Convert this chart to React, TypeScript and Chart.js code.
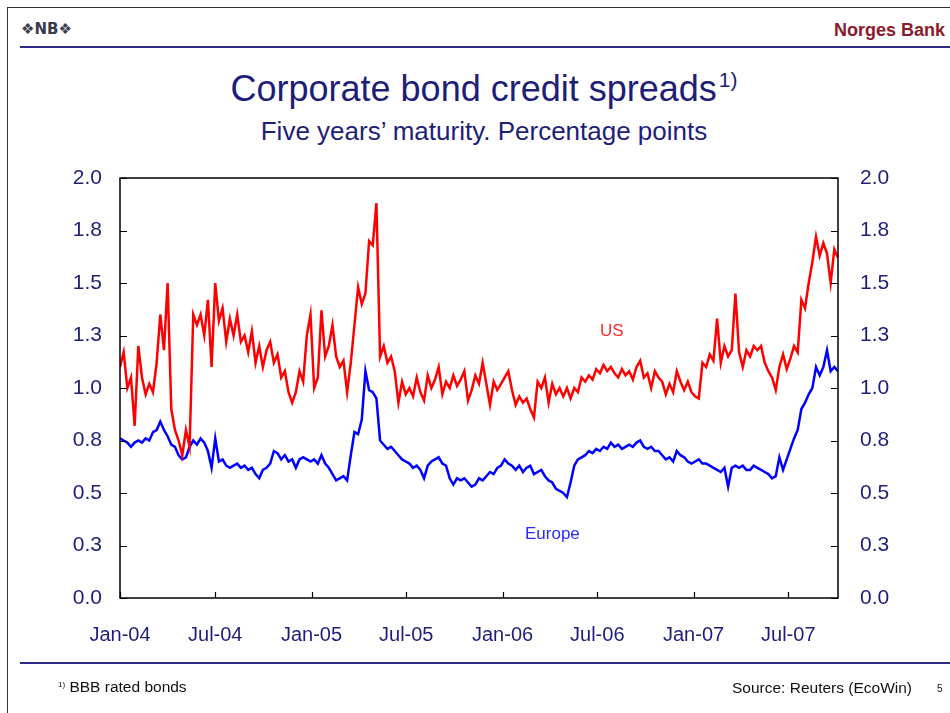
import React, { useEffect, useRef } from "react";
import { Chart, registerables } from "chart.js";

Chart.register(...registerables);

// Weekly samples starting first week of January 2004 (US and Europe, percentage points)
const sampleStepDays = 7;

const usSpread = [
  1.10, 1.17, 1.00, 1.05, 0.82, 1.20, 1.05, 0.97, 1.02, 0.98,
  1.12, 1.35, 1.18, 1.50, 0.90, 0.80, 0.75, 0.68, 0.80, 0.72,
  1.35, 1.30, 1.35, 1.25, 1.42, 1.10, 1.50, 1.32, 1.38, 1.22,
  1.33, 1.25, 1.35, 1.22, 1.25, 1.17, 1.27, 1.12, 1.20, 1.10,
  1.18, 1.22, 1.12, 1.16, 1.05, 1.08, 0.98, 0.93, 0.98, 1.08,
  1.03, 1.25, 1.35, 1.00, 1.05, 1.37, 1.15, 1.20, 1.30, 1.15,
  1.10, 1.13, 0.98, 1.12, 1.30, 1.48, 1.40, 1.45, 1.70, 1.68,
  1.88, 1.15, 1.20, 1.12, 1.15, 1.08, 0.93, 1.03, 0.97, 1.00,
  0.96, 1.05, 0.98, 0.94, 1.06, 1.00, 1.04, 1.10, 0.97, 1.03,
  1.00, 1.06, 1.01, 1.04, 1.08, 0.94, 0.99, 1.06, 1.02, 1.12,
  1.02, 0.92, 1.03, 0.99, 1.02, 1.05, 1.08, 0.99, 0.92, 0.96,
  0.93, 0.95, 0.90, 0.86, 1.03, 1.00, 1.05, 0.93, 1.02, 0.97,
  1.00, 0.96, 1.00, 0.95, 1.00, 0.98, 1.05, 1.03, 1.06, 1.04,
  1.09, 1.07, 1.11, 1.08, 1.10, 1.07, 1.05, 1.09, 1.06, 1.08,
  1.04, 1.10, 1.13, 1.05, 1.07, 1.00, 1.08, 1.05, 1.03, 0.97,
  1.02, 0.98, 1.08, 1.03, 0.99, 1.03, 0.98, 0.96, 0.95, 1.12,
  1.10, 1.16, 1.13, 1.33, 1.12, 1.20, 1.15, 1.18, 1.45, 1.17,
  1.10, 1.18, 1.15, 1.20, 1.18, 1.20, 1.12, 1.08, 1.05, 0.99,
  1.10, 1.16, 1.09, 1.14, 1.20, 1.17, 1.42, 1.38, 1.50, 1.60,
  1.72, 1.63, 1.69, 1.64, 1.50, 1.66, 1.62,
];

const europeSpread = [
  0.76, 0.75, 0.74, 0.72, 0.74, 0.75, 0.74, 0.76, 0.75, 0.79,
  0.80, 0.84, 0.80, 0.77, 0.73, 0.72, 0.68, 0.66, 0.67, 0.72,
  0.75, 0.73, 0.76, 0.74, 0.70, 0.62, 0.76, 0.65, 0.66, 0.63,
  0.62, 0.63, 0.64, 0.62, 0.63, 0.61, 0.62, 0.59, 0.57, 0.61,
  0.62, 0.64, 0.70, 0.69, 0.66, 0.68, 0.65, 0.66, 0.62, 0.66,
  0.67, 0.66, 0.65, 0.66, 0.64, 0.68, 0.64, 0.62, 0.59, 0.56,
  0.57, 0.58, 0.56, 0.68, 0.79, 0.78, 0.85, 1.08, 0.99, 0.98,
  0.95, 0.75, 0.73, 0.71, 0.72, 0.70, 0.68, 0.66, 0.65, 0.64,
  0.62, 0.63, 0.61, 0.57, 0.63, 0.65, 0.66, 0.67, 0.64, 0.63,
  0.57, 0.54, 0.57, 0.56, 0.57, 0.55, 0.53, 0.54, 0.57, 0.56,
  0.58, 0.60, 0.59, 0.62, 0.63, 0.66, 0.64, 0.63, 0.61, 0.63,
  0.60, 0.62, 0.63, 0.59, 0.60, 0.61, 0.58, 0.56, 0.55, 0.52,
  0.51, 0.50, 0.48, 0.55, 0.63, 0.66, 0.67, 0.68, 0.70, 0.69,
  0.71, 0.70, 0.72, 0.71, 0.74, 0.72, 0.73, 0.71, 0.72, 0.73,
  0.72, 0.74, 0.75, 0.72, 0.71, 0.72, 0.70, 0.70, 0.68, 0.66,
  0.67, 0.65, 0.70, 0.68, 0.67, 0.65, 0.64, 0.65, 0.66, 0.64,
  0.64, 0.63, 0.62, 0.61, 0.60, 0.62, 0.53, 0.62, 0.63, 0.62,
  0.63, 0.61, 0.61, 0.63, 0.62, 0.61, 0.60, 0.59, 0.57, 0.58,
  0.67, 0.61, 0.66, 0.71, 0.76, 0.80, 0.90, 0.93, 0.97, 1.00,
  1.10, 1.06, 1.10, 1.18, 1.08, 1.10, 1.08,
];

// Days since 1 Jan 2004 for each x-axis label
const xTickDays = [0, 182, 366, 547, 731, 912, 1096, 1277];
const xTickLabels = ["Jan-04", "Jul-04", "Jan-05", "Jul-05", "Jan-06", "Jul-06", "Jan-07", "Jul-07"];
const xMaxDays = 1372;

const yMin = 0;
const yMax = 2;
const yStep = 0.25;

const FONT = "'Liberation Sans', Arial, Helvetica, sans-serif";
const NAVY = "#1e1e78";

const frameTicksPlugin = {
  id: "frameTicks",
  afterDraw(chart: any) {
    const { ctx, chartArea } = chart;
    const { left, right, top, bottom } = chartArea;
    const yScale = chart.scales.y;
    const xScale = chart.scales.x;
    ctx.save();
    ctx.strokeStyle = "#000";
    ctx.lineWidth = 1.5;
    ctx.strokeRect(left, top, right - left, bottom - top);
    ctx.lineWidth = 1.2;
    ctx.beginPath();
    yScale.ticks.forEach((t: any) => {
      const py = Math.round(yScale.getPixelForValue(t.value)) + 0.5;
      ctx.moveTo(left, py);
      ctx.lineTo(left + 7, py);
      ctx.moveTo(right, py);
      ctx.lineTo(right - 7, py);
    });
    xScale.ticks.forEach((t: any) => {
      const px = Math.round(xScale.getPixelForValue(t.value)) + 0.5;
      ctx.moveTo(px, bottom);
      ctx.lineTo(px, bottom - 6);
    });
    ctx.stroke();
    ctx.restore();
  },
};

function SpreadChart() {
  const ref = useRef<HTMLCanvasElement | null>(null);
  useEffect(() => {
    if (!ref.current) return;
    const usPoints = usSpread.map((v, i) => ({ x: i * sampleStepDays, y: v }));
    const euPoints = europeSpread.map((v, i) => ({ x: i * sampleStepDays, y: v }));
    const yTickCb = (v: any) => Number(v).toFixed(1);
    const chart = new Chart(ref.current, {
      type: "line",
      data: {
        datasets: [
          {
            label: "US",
            data: usPoints,
            borderColor: "#ff0000",
            borderWidth: 2.5,
            pointRadius: 0,
            tension: 0,
            yAxisID: "y",
          },
          {
            label: "Europe",
            data: euPoints,
            borderColor: "#0000ff",
            borderWidth: 2.5,
            pointRadius: 0,
            tension: 0,
            yAxisID: "y",
          },
        ],
      },
      options: {
        responsive: false,
        animation: false,
        devicePixelRatio: 1,
        layout: { padding: { top: 178, left: 0, right: 0, bottom: 0 } },
        plugins: {
          legend: { display: false },
          tooltip: { enabled: false },
          title: { display: false },
        },
        scales: {
          x: {
            type: "linear",
            min: 0,
            max: xMaxDays,
            grid: { display: false, drawTicks: false },
            border: { display: false },
            afterBuildTicks: (scale: any) => {
              scale.ticks = xTickDays.map((d) => ({ value: d }));
            },
            afterFit: (scale: any) => {
              scale.height = 115;
            },
            ticks: {
              autoSkip: false,
              maxRotation: 0,
              padding: 25,
              color: NAVY,
              font: { family: FONT, size: 20 },
              callback: (_v: any, i: number) => xTickLabels[i],
            },
          },
          y: {
            position: "left",
            min: yMin,
            max: yMax,
            grid: { display: false, drawTicks: false },
            border: { display: false },
            afterFit: (scale: any) => {
              scale.width = 120;
            },
            ticks: {
              stepSize: yStep,
              padding: 18,
              color: NAVY,
              font: { family: FONT, size: 21 },
              callback: yTickCb,
            },
          },
          y2: {
            position: "right",
            min: yMin,
            max: yMax,
            grid: { display: false, drawTicks: false },
            border: { display: false },
            afterFit: (scale: any) => {
              scale.width = 112;
            },
            ticks: {
              stepSize: yStep,
              padding: 22,
              color: NAVY,
              font: { family: FONT, size: 21 },
              callback: yTickCb,
            },
          },
        },
      },
      plugins: [frameTicksPlugin],
    } as any);
    return () => chart.destroy();
  }, []);
  return (
    <canvas
      ref={ref}
      width={950}
      height={713}
      style={{ position: "absolute", left: 0, top: 0, width: 950, height: 713 }}
    />
  );
}

const txt = (extra: React.CSSProperties): React.CSSProperties => ({
  position: "absolute",
  fontFamily: FONT,
  lineHeight: 1,
  whiteSpace: "nowrap",
  ...extra,
});

export default function App() {
  return (
    <div
      style={{
        position: "fixed",
        left: 0,
        top: 0,
        width: 950,
        height: 713,
        background: "#fff",
        overflow: "hidden",
      }}
    >
      {/* slide frame */}
      <div
        style={{
          position: "absolute",
          left: 7,
          top: 7,
          width: 960,
          height: 720,
          borderLeft: "1.5px solid #333",
          borderTop: "1.5px solid #333",
        }}
      />
      <div style={txt({ left: 21, top: 22, fontSize: 15, fontWeight: 700, color: "#3a3a4a", fontFamily: "'DejaVu Sans', sans-serif" })}>
        ❖NB❖
      </div>
      <div style={txt({ right: 5, top: 21, fontSize: 18, fontWeight: 700, color: "#8a1a2a" })}>Norges Bank</div>
      <div style={{ position: "absolute", left: 20, top: 46, width: 940, height: 2, background: "#2c2c88" }} />
      <div style={txt({ left: 0, width: 968, textAlign: "center", top: 71, fontSize: 36, color: NAVY })}>
        Corporate bond credit spreads
        <span style={{ fontSize: 21, position: "relative", top: -14, marginLeft: 2 }}>1)</span>
      </div>
      <div style={txt({ left: 0, width: 968, textAlign: "center", top: 118, fontSize: 26, color: NAVY })}>
        Five years’ maturity. Percentage points
      </div>
      <SpreadChart />
      <div style={txt({ left: 600, top: 322, fontSize: 17, color: "#ff2a2a" })}>US</div>
      <div style={txt({ left: 525, top: 525, fontSize: 17, color: "#2a2aff" })}>Europe</div>
      <div style={{ position: "absolute", left: 20, top: 662, width: 940, height: 2, background: "#2c2c88" }} />
      <div style={txt({ left: 58, top: 679, fontSize: 15.5, color: "#111" })}>
        <span style={{ fontSize: 8, position: "relative", top: -5 }}>1)</span> BBB rated bonds
      </div>
      <div style={txt({ right: 38, top: 680, fontSize: 15.5, color: "#111" })}>Source: Reuters (EcoWin)</div>
      <div style={txt({ left: 937, top: 684, fontSize: 10, color: "#111" })}>5</div>
    </div>
  );
}
